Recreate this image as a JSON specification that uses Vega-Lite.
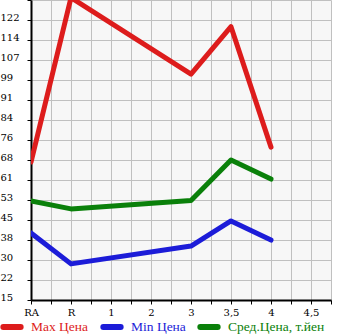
{
  "$schema": "https://vega.github.io/schema/vega-lite/v6.json",
  "width": 300,
  "height": 300,
  "autosize": {"type": "none"},
  "padding": {"left": 31, "top": 0, "right": 14, "bottom": 35},
  "background": "white",
  "config": {
    "view": {"fill": "#f7f7f7", "stroke": null},
    "axis": {"labelFont": "DejaVu Serif", "labelFontSize": 10, "labelColor": "black", "gridColor": "#c0c0c0", "gridWidth": 1, "gridOpacity": 1, "domainColor": "black", "domainWidth": 2, "tickColor": "black", "tickWidth": 1, "title": null}
  },
  "data": {
    "values": [
      {"series": "Max Цена", "cat": "RA", "value": 67.7},
      {"series": "Max Цена", "cat": "R", "value": 130.5},
      {"series": "Max Цена", "cat": "3", "value": 101.3},
      {"series": "Max Цена", "cat": "3,5", "value": 119.4},
      {"series": "Max Цена", "cat": "4", "value": 73.4},
      {"series": "Min Цена", "cat": "RA", "value": 40.6},
      {"series": "Min Цена", "cat": "R", "value": 28.8},
      {"series": "Min Цена", "cat": "3", "value": 35.6},
      {"series": "Min Цена", "cat": "3,5", "value": 45.2},
      {"series": "Min Цена", "cat": "4", "value": 37.9},
      {"series": "Сред.Цена, т.йен", "cat": "RA", "value": 52.8},
      {"series": "Сред.Цена, т.йен", "cat": "R", "value": 49.8},
      {"series": "Сред.Цена, т.йен", "cat": "3", "value": 53.0},
      {"series": "Сред.Цена, т.йен", "cat": "3,5", "value": 68.5},
      {"series": "Сред.Цена, т.йен", "cat": "4", "value": 61.2}
    ]
  },
  "mark": {"type": "line", "strokeWidth": 5, "strokeCap": "round", "strokeJoin": "round", "clip": true},
  "encoding": {
    "x": {
      "field": "cat",
      "type": "ordinal",
      "scale": {"type": "point", "padding": 0, "domain": ["RA", "RA_", "R", "R_", "1", "1_", "2", "2_", "3", "3_", "3,5", "3,5_", "4", "4_", "4,5", "4,5_"]},
      "axis": {"labelAngle": 0, "tickSize": 4, "labelPadding": 3, "grid": true, "labelExpr": "indexof(datum.label, '_') >= 0 ? '' : datum.label"}
    },
    "y": {
      "field": "value",
      "type": "quantitative",
      "scale": {"domain": [15, 129.6], "nice": false, "zero": false},
      "axis": {
        "values": [15, 22.64, 30.28, 37.92, 45.56, 53.2, 60.84, 68.48, 76.12, 83.76, 91.4, 99.04, 106.68, 114.32, 121.96, 129.6],
        "labelExpr": "['15','22','30','38','45','53','61','68','76','84','91','99','107','114','122',''][round((datum.value-15)/7.64)]",
        "tickSize": 4,
        "labelPadding": 27,
        "labelAlign": "left",
        "labelBaseline": "alphabetic",
        "labelOffset": 0,
        "grid": true
      }
    },
    "color": {
      "field": "series",
      "type": "nominal",
      "scale": {"domain": ["Max Цена", "Min Цена", "Сред.Цена, т.йен"], "range": ["#dd1c1c", "#1c1cd8", "#0a800a"]},
      "legend": {
        "title": null,
        "orient": "none",
        "direction": "horizontal",
        "gridAlign": "none",
        "legendX": -31,
        "legendY": 315,
        "symbolType": "stroke",
        "symbolSize": 300,
        "symbolStrokeWidth": 6,
        "labelFont": "Liberation Serif",
        "labelFontSize": 13.5,
        "labelOffset": 7,
        "columnPadding": 2,
        "labelLimit": 200,
        "encode": {
          "labels": {"update": {"fill": {"scale": "color", "field": "value"}}},
          "symbols": {"update": {"strokeCap": {"value": "round"}}}
        }
      }
    }
  }
}
